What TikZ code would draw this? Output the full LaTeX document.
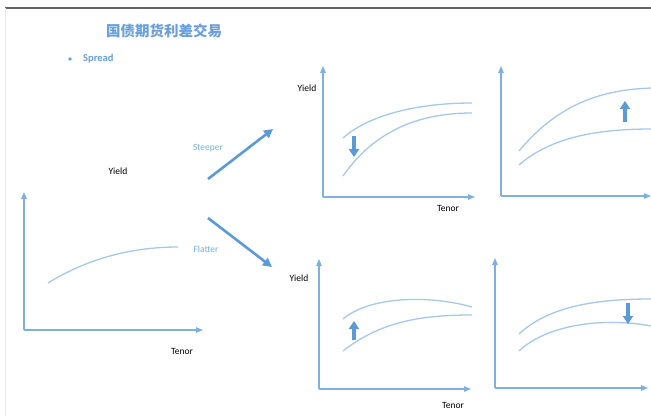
\documentclass[tikz,border=0pt]{standalone}
\usepackage{fontspec}
\setmainfont{Carlito}
\newfontfamily\cjk{Noto Sans CJK SC}
\usetikzlibrary{arrows.meta}
\definecolor{mblue}{HTML}{5B9BD5}
\definecolor{axisc}{HTML}{7EB0E0}
\definecolor{curvec}{HTML}{A5C8EA}
\definecolor{titlec}{HTML}{6A9FDA}
\tikzset{
  axisline/.style={axisc, line width=1.2pt, -{Triangle[length=7pt,width=5.5pt]}},
  curveline/.style={curvec, line width=1.3pt},
  bigarrow/.style={mblue, line width=2.6pt, -{Triangle[length=9pt,width=9pt]}},
  shiftarrow/.style={mblue, line width=3.2pt, -{Triangle[length=8pt,width=10pt]}},
  lbl/.style={font=\fontsize{9.5}{10}\selectfont, text=black, inner sep=0pt},
  blbl/.style={font=\fontsize{9.5}{10}\selectfont, text=mblue!80, inner sep=0pt}
}
\begin{document}
\begin{tikzpicture}[x=1pt,y=-1pt]
\useasboundingbox (0,0) rectangle (651,416);
\fill[white] (0,0) rectangle (651,416);
% frame lines
\coordinate (tl) at (5,8); \coordinate (tr) at (651,8); \coordinate (bl) at (5,416);
\draw[black!60, line width=1.3pt] (tl) -- (tr);
\draw[black!8, line width=0.8pt] (tl) -- (bl);
% title
\node[font=\cjk\bfseries\fontsize{14.5}{16}\selectfont, text=titlec, inner sep=0pt] (title) at (164,31) {国债期货利差交易};
\node[font=\bfseries\fontsize{10.5}{12}\selectfont, text=titlec, inner sep=0pt, anchor=west] (spread) at (83,59) {Spread};
\fill[titlec] (70,59) circle (1.8pt);
% left chart
\coordinate (Lo) at (24,330); \coordinate (Ly) at (24,192); \coordinate (Lx) at (203,330);
\draw[axisline] (Lo) -- (Ly);
\draw[axisline] (Lo) -- (Lx);
\draw[curveline] (48,283) .. controls (90,257) and (135,247) .. (178,247);
\node[lbl] (LY) at (118,171) {Yield};
\node[lbl] (LT) at (182,351) {Tenor};
% transition arrows
\coordinate (s1) at (208,179); \coordinate (s2) at (273,129);
\coordinate (f1) at (208,218); \coordinate (f2) at (272,267);
\draw[bigarrow] (s1) -- (s2);
\draw[bigarrow] (f1) -- (f2);
\node[blbl] (steep) at (208,148) {Steeper};
\node[blbl] (flat) at (206,249) {Flatter};
% top middle chart
\coordinate (Ao) at (323,197); \coordinate (Ay) at (323,66); \coordinate (Ax) at (475,197);
\draw[axisline] (Ao) -- (Ay);
\draw[axisline] (Ao) -- (Ax);
\draw[curveline] (343,138) .. controls (370,114) and (420,103) .. (472,103);
\draw[curveline] (343,176) .. controls (375,130) and (420,113) .. (472,113);
\coordinate (Aa1) at (354,136); \coordinate (Aa2) at (354,157);
\draw[shiftarrow] (Aa1) -- (Aa2);
\node[lbl] (AY) at (307,88) {Yield};
\node[lbl] (AT) at (448,208) {Tenor};
% top right chart
\coordinate (Bo) at (501,196); \coordinate (By) at (501,66); \coordinate (Bx) at (651,196);
\draw[axisline] (Bo) -- (By);
\draw[axisline] (Bo) -- (Bx);
\draw[curveline] (519,151) .. controls (555,108) and (595,90) .. (651,88);
\draw[curveline] (519,165) .. controls (550,138) and (595,129) .. (651,129);
\coordinate (Ba1) at (625,122); \coordinate (Ba2) at (625,101);
\draw[shiftarrow] (Ba1) -- (Ba2);
% bottom middle chart
\coordinate (Co) at (319,389); \coordinate (Cy) at (319,259); \coordinate (Cx) at (471,389);
\draw[axisline] (Co) -- (Cy);
\draw[axisline] (Co) -- (Cx);
\draw[curveline] (343,319) .. controls (370,296) and (430,295) .. (472,307);
\draw[curveline] (343,351) .. controls (380,322) and (420,315) .. (472,315);
\coordinate (Ca1) at (354,340); \coordinate (Ca2) at (354,321);
\draw[shiftarrow] (Ca1) -- (Ca2);
\node[lbl] (CY) at (299,278) {Yield};
\node[lbl] (CT) at (453,405) {Tenor};
% bottom right chart
\coordinate (Do) at (495,388); \coordinate (Dy) at (495,258); \coordinate (Dx) at (648,388);
\draw[axisline] (Do) -- (Dy);
\draw[axisline] (Do) -- (Dx);
\draw[curveline] (519,334) .. controls (550,305) and (600,299) .. (651,299);
\draw[curveline] (519,351) .. controls (550,322) and (610,318) .. (651,326);
\coordinate (Da1) at (628,303); \coordinate (Da2) at (628,324);
\draw[shiftarrow] (Da1) -- (Da2);
\end{tikzpicture}
\end{document}
